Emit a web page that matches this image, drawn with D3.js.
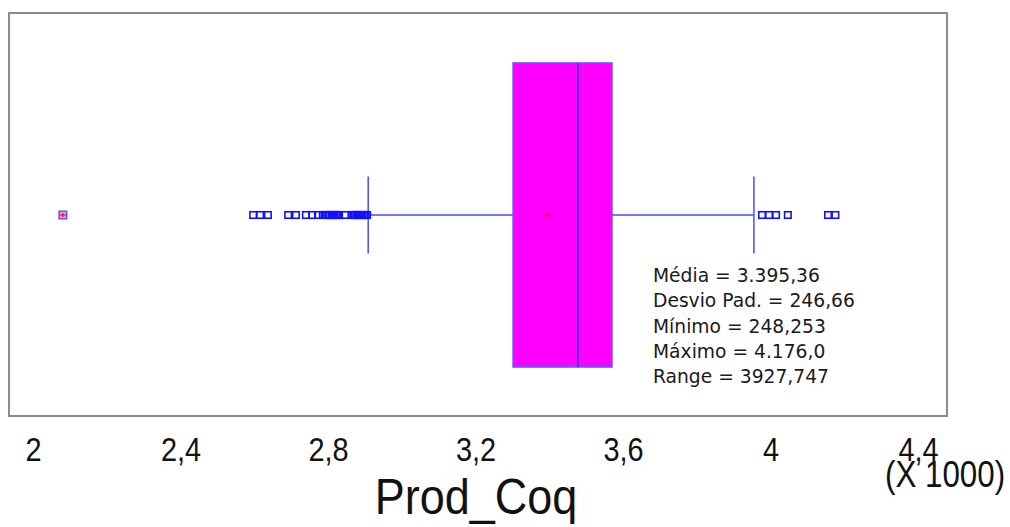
<!DOCTYPE html>
<html>
<head>
<meta charset="utf-8">
<script src="https://cdn.jsdelivr.net/npm/d3@7"></script>
<style>
  html, body { margin: 0; padding: 0; background: #ffffff; }
  svg { display: block; }
</style>
</head>
<body>
<svg id="chart" width="1010" height="527"></svg>
<script>
// Box-and-whisker summary of Prod_Coq (values in units, axis shown x 1000)
const variableName = "Prod_Coq";
const tickValues = [2000, 2400, 2800, 3200, 3600, 4000, 4400];
const tickLabels = ["2", "2,4", "2,8", "3,2", "3,6", "4", "4,4"];

// quartiles, whisker ends and mean
const quartiles = [3302, 3478, 3570];          // Q1, median, Q3
const whiskers = [2909, 3955];                 // lower, upper
const meanValue = [3395.36];

// points beyond the whiskers
const outliers = [
  2597, 2616, 2637, 2692, 2713,
  2740, 2757, 2773, 2786,
  2793, 2797, 2801, 2805, 2810, 2814, 2818, 2822, 2826, 2830,
  2846,
  2865, 2869, 2873, 2877, 2881, 2885, 2890, 2894, 2898, 2902, 2906,
  3977, 3996, 4015, 4047, 4156, 4176
];
const farOutliers = [2081];

const statsLines = [
  "Média = 3.395,36",
  "Desvio Pad. = 246,66",
  "Mínimo = 248,253",
  "Máximo = 4.176,0",
  "Range = 3927,747"
];

const svg = d3.select("#chart");

const frame = { left: 9, top: 13, right: 947, bottom: 416 };
const labelFont = "'Liberation Sans', Arial, sans-serif";

const x = d3.scaleLinear().domain([2000, 4400]).range([33, 918]);
const y = d3.scaleBand().domain([variableName]).range([63, 367]).padding(0);

const cy = y(variableName) + y.bandwidth() / 2;
const capHalf = 38.5;

// plot frame
svg.append("rect")
  .attr("x", frame.left).attr("y", frame.top)
  .attr("width", frame.right - frame.left)
  .attr("height", frame.bottom - frame.top)
  .attr("fill", "none")
  .attr("stroke", "#8c8c8c")
  .attr("stroke-width", 2);

const g = svg.append("g");

// whisker lines
g.append("line")
  .attr("x1", x(whiskers[0])).attr("x2", x(quartiles[0]))
  .attr("y1", cy).attr("y2", cy)
  .attr("stroke", "#4a4aff").attr("stroke-width", 1.3);
g.append("line")
  .attr("x1", x(quartiles[2])).attr("x2", x(whiskers[1]))
  .attr("y1", cy).attr("y2", cy)
  .attr("stroke", "#4a4aff").attr("stroke-width", 1.3);

// whisker caps
g.selectAll("line.cap")
  .data(whiskers)
  .join("line")
  .attr("class", "cap")
  .attr("x1", d => x(d)).attr("x2", d => x(d))
  .attr("y1", cy - capHalf).attr("y2", cy + capHalf)
  .attr("stroke", "#4a4aff").attr("stroke-width", 1.5);

// outlier squares
const sq = 6.5;
g.selectAll("rect.out")
  .data(outliers)
  .join("rect")
  .attr("class", "out")
  .attr("x", d => x(d) - sq / 2)
  .attr("y", cy - sq / 2)
  .attr("width", sq).attr("height", sq)
  .attr("fill", "none")
  .attr("stroke", "#1010ff")
  .attr("stroke-width", 1.6);

// far outliers: square with a red cross inside
const far = g.selectAll("g.far")
  .data(farOutliers)
  .join("g")
  .attr("class", "far")
  .attr("transform", d => `translate(${x(d)},${cy})`);
far.append("rect")
  .attr("x", -3.8).attr("y", -3.8)
  .attr("width", 7.6).attr("height", 7.6)
  .attr("fill", "#f4a0c8")
  .attr("stroke", "#5050ff")
  .attr("stroke-width", 1.4);
far.append("path")
  .attr("d", "M-3,0H3M0,-2V2")
  .attr("stroke", "#ff0000")
  .attr("stroke-width", 1.2);

// interquartile box
g.append("rect")
  .attr("x", x(quartiles[0]))
  .attr("y", y(variableName))
  .attr("width", x(quartiles[2]) - x(quartiles[0]))
  .attr("height", y.bandwidth())
  .attr("fill", "#ff00ff")
  .attr("stroke", "#6a55ff")
  .attr("stroke-width", 1.6);

// median
g.append("line")
  .attr("x1", x(quartiles[1])).attr("x2", x(quartiles[1]))
  .attr("y1", y(variableName)).attr("y2", y(variableName) + y.bandwidth())
  .attr("stroke", "#5a2ad8").attr("stroke-width", 2);

// mean marker
g.selectAll("path.mean")
  .data(meanValue)
  .join("path")
  .attr("class", "mean")
  .attr("d", d => `M${x(d) - 4},${cy}H${x(d) + 4}M${x(d)},${cy - 4}V${cy + 4}`)
  .attr("stroke", "#ff0000")
  .attr("stroke-width", 1.2);

// x axis (labels only, condensed type)
const axis = d3.axisBottom(x)
  .tickValues(tickValues)
  .tickFormat((d, i) => tickLabels[i])
  .tickSize(0)
  .tickPadding(0);
const axG = svg.append("g")
  .attr("transform", `translate(0,${frame.bottom})`)
  .call(axis);
axG.select(".domain").remove();
axG.selectAll("text")
  .attr("dy", null)
  .attr("y", 0)
  .attr("transform", "translate(0,45) scale(0.85,1)")
  .attr("fill", "#111")
  .style("font-family", labelFont)
  .style("font-size", "34px");

svg.append("text")
  .attr("transform", "translate(945,487) scale(0.87,1)")
  .attr("text-anchor", "middle")
  .attr("fill", "#111")
  .style("font-family", labelFont)
  .style("font-size", "36px")
  .text("(X 1000)");

svg.append("text")
  .attr("transform", "translate(476,514) scale(0.9,1)")
  .attr("text-anchor", "middle")
  .attr("fill", "#111")
  .style("font-family", labelFont)
  .style("font-size", "50px")
  .text(variableName);

// summary statistics
svg.append("g")
  .selectAll("text")
  .data(statsLines)
  .join("text")
  .attr("x", 653)
  .attr("y", (d, i) => 282 + i * 25.3)
  .attr("fill", "#1a1a1a")
  .style("font-family", "'DejaVu Sans', Verdana, sans-serif")
  .style("font-size", "18.7px")
  .text(d => d);
</script>
</body>
</html>
